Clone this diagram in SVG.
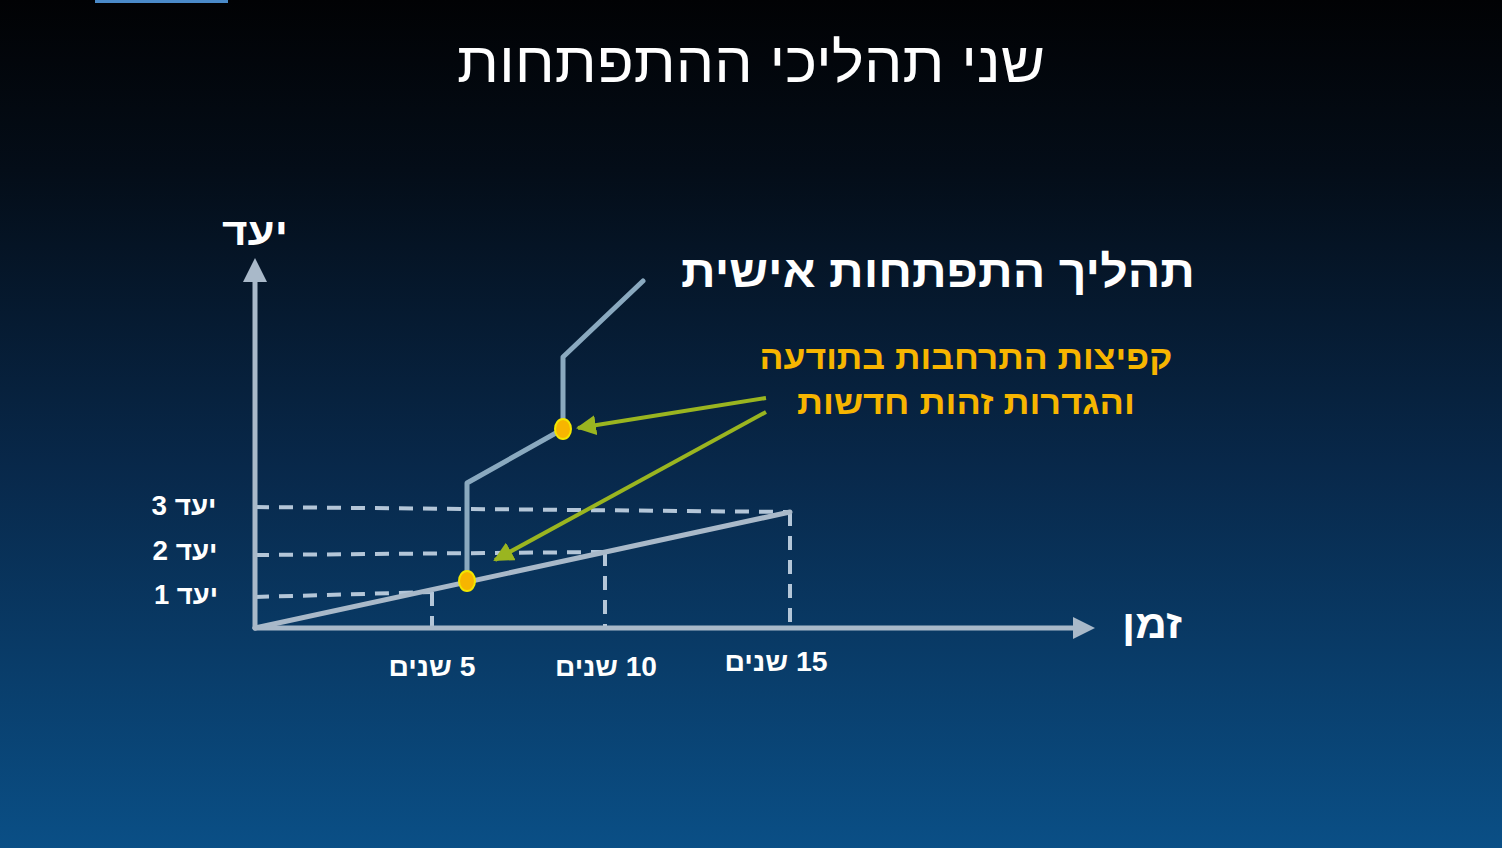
<svg xmlns="http://www.w3.org/2000/svg" width="1502" height="848" viewBox="0 0 1502 848">
<defs>
<linearGradient id="bg" x1="0" y1="0" x2="0" y2="1">
<stop offset="0" stop-color="#010204"/>
<stop offset="0.2" stop-color="#040d18"/>
<stop offset="0.55" stop-color="#08284a"/>
<stop offset="1" stop-color="#0a4f86"/>
</linearGradient>
<marker id="ga" viewBox="0 0 10 10" refX="9" refY="5" markerWidth="5" markerHeight="5" orient="auto" markerUnits="strokeWidth"><path d="M0,0 L10,5 L0,10 z" fill="#9ab520"/></marker>
</defs>
<style>
.ax{stroke:#a9b9c9;stroke-width:5;fill:none;stroke-linecap:round}
.dash{stroke:#b4c6d8;stroke-width:4;fill:none;stroke-dasharray:14 10}
.path{stroke:#8aa9bf;stroke-width:5;fill:none;stroke-linecap:round;stroke-linejoin:round}
.grn{stroke:#9ab520;stroke-width:4;fill:none;marker-end:url(#ga)}
.dot{fill:#f7b500;stroke:#f2e600;stroke-width:2}
text{font-family:"Liberation Sans","DejaVu Sans",sans-serif;fill:#fff}
.b{font-weight:bold}
.lab{font-size:27px;font-weight:bold}
</style>
<rect width="1502" height="848" fill="url(#bg)"/>
<rect x="95" y="0" width="133" height="3" fill="#4a8ac8"/>
<text x="751" y="82" font-size="56" text-anchor="middle" direction="rtl" textLength="588" lengthAdjust="spacingAndGlyphs">שני תהליכי ההתפתחות</text>
<g id="connectors">
<line class="dash" x1="255" y1="507" x2="790" y2="512"/>
<line class="dash" x1="255" y1="555" x2="605" y2="552"/>
<line class="dash" x1="255" y1="597" x2="432" y2="592"/>
<line class="dash" x1="432" y1="592" x2="432" y2="628"/>
<line class="dash" x1="605" y1="552" x2="605" y2="628"/>
<line class="dash" x1="790" y1="512" x2="790" y2="628"/>
<line class="ax" x1="255" y1="628" x2="255" y2="280"/>
<path d="M243,282 L255,258 L267,282 z" fill="#a9b9c9"/>
<line class="ax" x1="255" y1="628" x2="1075" y2="628"/>
<path d="M1073,617 L1095,628 L1073,639 z" fill="#a9b9c9"/>
<line class="ax" x1="255" y1="628" x2="790" y2="512" stroke-width="6"/>
<polyline class="path" points="467,581 467,483 563,429 563,357 643,281"/>
<line class="grn" x1="766" y1="398" x2="578" y2="428"/>
<line class="grn" x1="766" y1="412" x2="495" y2="560"/>
</g>
<g id="dot1"><ellipse class="dot" cx="467" cy="581" rx="8" ry="10"/></g>
<g id="dot2"><ellipse class="dot" cx="563" cy="429" rx="8" ry="10"/></g>
<g id="labels">
<text x="255" y="245" font-size="38" class="b" text-anchor="middle" direction="rtl" textLength="66" lengthAdjust="spacingAndGlyphs">יעד</text>
<text x="938" y="287" font-size="44" class="b" text-anchor="middle" direction="rtl" textLength="514" lengthAdjust="spacingAndGlyphs">תהליך התפתחות אישית</text>
<text x="966" y="369" font-size="33" class="b" text-anchor="middle" direction="rtl" style="fill:#f7b500" textLength="413" lengthAdjust="spacingAndGlyphs">קפיצות התרחבות בתודעה</text>
<text x="966" y="414" font-size="33" class="b" text-anchor="middle" direction="rtl" style="fill:#f7b500" textLength="338" lengthAdjust="spacingAndGlyphs">והגדרות זהות חדשות</text>
<text x="184" y="515" class="lab" text-anchor="middle" direction="rtl" textLength="65" lengthAdjust="spacingAndGlyphs">יעד 3</text>
<text x="185" y="560" class="lab" text-anchor="middle" direction="rtl" textLength="65" lengthAdjust="spacingAndGlyphs">יעד 2</text>
<text x="186" y="604" class="lab" text-anchor="middle" direction="rtl" textLength="64" lengthAdjust="spacingAndGlyphs">יעד 1</text>
<text x="1152" y="638" font-size="40" class="b" text-anchor="middle" direction="rtl" textLength="60" lengthAdjust="spacingAndGlyphs">זמן</text>
<text x="432" y="676" class="lab" text-anchor="middle" direction="rtl" textLength="87" lengthAdjust="spacingAndGlyphs">5 שנים</text>
<text x="606" y="676" class="lab" text-anchor="middle" direction="rtl" textLength="102" lengthAdjust="spacingAndGlyphs">10 שנים</text>
<text x="776" y="671" class="lab" text-anchor="middle" direction="rtl" textLength="103" lengthAdjust="spacingAndGlyphs">15 שנים</text>
</g>
</svg>
